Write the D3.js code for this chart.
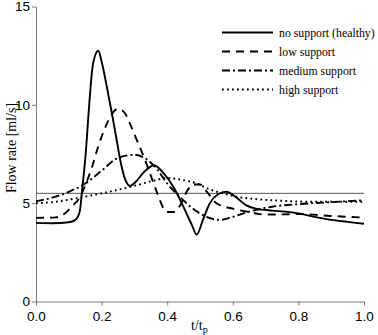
<!DOCTYPE html>
<html>
<head>
<meta charset="utf-8">
<script src="https://cdn.jsdelivr.net/npm/d3@7"></script>
<style>
  html, body { margin: 0; padding: 0; background: #fff; }
  svg { display: block; }
</style>
</head>
<body>
<svg id="chart" width="378" height="335"></svg>
<script>
// Normalised time t/tp and flow rate [ml/s] for each support level
const tNone = [0, 0.05, 0.10, 0.12, 0.133, 0.142, 0.152, 0.16, 0.174, 0.19, 0.20, 0.215, 0.231, 0.245, 0.256, 0.271, 0.287, 0.305, 0.33, 0.36, 0.39, 0.42, 0.45, 0.475, 0.49, 0.51, 0.53, 0.555, 0.58, 0.61, 0.64, 0.67, 0.72, 0.76, 0.80, 0.85, 0.90, 0.95, 1.0];
const qNone = [4.0, 3.98, 4.03, 4.15, 4.55, 5.9, 7.6, 9.5, 12.1, 12.75, 12.2, 11.0, 9.6, 8.3, 7.26, 6.25, 5.88, 6.1, 6.6, 6.93, 6.5, 5.8, 4.8, 3.9, 3.4, 4.2, 5.0, 5.45, 5.58, 5.3, 4.9, 4.72, 4.62, 4.57, 4.48, 4.3, 4.15, 4.05, 3.95];

const tLow = [0, 0.06, 0.09, 0.11, 0.13, 0.15, 0.17, 0.19, 0.21, 0.23, 0.25, 0.27, 0.29, 0.31, 0.33, 0.35, 0.37, 0.39, 0.40, 0.42, 0.44, 0.46, 0.48, 0.50, 0.52, 0.55, 0.60, 0.65, 0.70, 0.75, 0.80, 0.90, 1.0];
const qLow = [4.25, 4.28, 4.5, 4.85, 5.2, 5.9, 6.8, 7.9, 8.8, 9.5, 9.8, 9.6, 8.9, 8.1, 7.3, 6.4, 5.5, 4.7, 4.55, 4.55, 4.9, 5.6, 5.95, 5.95, 5.6, 5.0, 4.72, 4.55, 4.42, 4.43, 4.45, 4.35, 4.27];

const tMedium = [0, 0.06, 0.10, 0.15, 0.20, 0.25, 0.30, 0.34, 0.37, 0.40, 0.44, 0.48, 0.52, 0.56, 0.60, 0.65, 0.72, 0.80, 0.90, 1.0];
const qMedium = [5.1, 5.33, 5.58, 6.0, 6.65, 7.3, 7.46, 7.2, 6.7, 6.0, 5.3, 4.7, 4.3, 4.15, 4.3, 4.57, 4.82, 4.95, 5.05, 5.15];

const tHigh = [0, 0.06, 0.12, 0.20, 0.30, 0.36, 0.40, 0.44, 0.49, 0.53, 0.57, 0.62, 0.65, 0.75, 0.85, 1.0];
const qHigh = [5.0, 5.07, 5.24, 5.5, 5.88, 6.15, 6.28, 6.2, 6.0, 5.7, 5.5, 5.3, 5.24, 5.12, 5.07, 5.07];

const seriesNames = ["no support (healthy)", "low support", "medium support", "high support"];
const meanFlow = 5.5;

const xTicks = [0, 0.2, 0.4, 0.6, 0.8, 1.0];
const yTicks = [0, 5, 10, 15];

const svg = d3.select("#chart");
const plotLeft = 36, plotRight = 364, plotTop = 6.5, plotBottom = 301.5;

const x = d3.scaleLinear().domain([0, 1]).range([plotLeft, plotRight]);
const y = d3.scaleLinear().domain([0, 15]).range([plotBottom, plotTop]);

// axes
const axisColor = "#7a7a7a";
const xAxis = svg.append("g")
  .attr("transform", `translate(0,${plotBottom})`)
  .call(d3.axisBottom(x).tickValues(xTicks).tickFormat(d3.format(".1f")).tickSize(4).tickSizeOuter(0));
const yAxis = svg.append("g")
  .attr("transform", `translate(${plotLeft},0)`)
  .call(d3.axisLeft(y).tickValues(yTicks).tickFormat(d3.format("d")).tickSize(4).tickSizeOuter(0));

[xAxis, yAxis].forEach(g => {
  g.select(".domain").attr("stroke", axisColor).attr("stroke-width", 1);
  g.selectAll(".tick line").attr("stroke", axisColor);
  g.selectAll(".tick text")
    .attr("fill", "#000")
    .style("font-family", "'Liberation Sans', Arial, sans-serif")
    .style("font-size", "13.5px");
});
xAxis.selectAll(".tick text").attr("dy", "0.95em");
yAxis.selectAll(".tick text").attr("x", -6);

// mean flow reference line
svg.append("line")
  .attr("x1", x(0)).attr("x2", x(1))
  .attr("y1", y(meanFlow)).attr("y2", y(meanFlow))
  .attr("stroke", "#555").attr("stroke-width", 1);

// curves
const styles = [
  { dash: null, width: 1.9 },
  { dash: "8,6", width: 1.9 },
  { dash: "8,3,2,3", width: 1.9 },
  { dash: "1.8,3.2", width: 1.9 }
];
const series = [
  d3.zip(tNone, qNone),
  d3.zip(tLow, qLow),
  d3.zip(tMedium, qMedium),
  d3.zip(tHigh, qHigh)
];

const line = d3.line()
  .x(d => x(d[0]))
  .y(d => y(d[1]))
  .curve(d3.curveMonotoneX);

series.forEach((s, i) => {
  svg.append("path")
    .datum(s)
    .attr("d", line)
    .attr("fill", "none")
    .attr("stroke", "#000")
    .attr("stroke-width", styles[i].width)
    .attr("stroke-dasharray", styles[i].dash)
    .attr("stroke-linejoin", "round");
});

// legend
const legend = svg.append("g");
seriesNames.forEach((name, i) => {
  const ly = 32.5 + i * 19;
  legend.append("line")
    .attr("x1", 222).attr("x2", 273)
    .attr("y1", ly).attr("y2", ly)
    .attr("stroke", "#000")
    .attr("stroke-width", styles[i].width)
    .attr("stroke-dasharray", styles[i].dash);
  legend.append("text")
    .attr("x", 279).attr("y", ly + 4)
    .style("font-family", "'Liberation Serif', 'Times New Roman', serif")
    .style("font-size", "11.8px")
    .text(name);
});

// axis titles
svg.append("text")
  .attr("transform", "translate(16,148) rotate(-90)")
  .attr("text-anchor", "middle")
  .style("font-family", "'Liberation Serif', 'Times New Roman', serif")
  .style("font-size", "14px")
  .text("Flow rate [ml/s]");

const xt = svg.append("text")
  .attr("x", 191).attr("y", 330)
  .style("font-family", "'Liberation Serif', 'Times New Roman', serif")
  .style("font-size", "14px");
xt.append("tspan").text("t/t");
xt.append("tspan").attr("dy", 3).style("font-size", "10px").text("p");
</script>
</body>
</html>
